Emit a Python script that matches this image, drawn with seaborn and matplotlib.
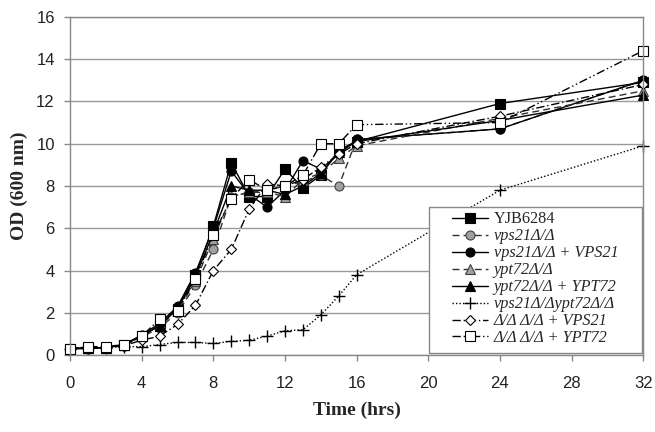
import numpy as np
import pandas as pd
import matplotlib
matplotlib.use("Agg")
import matplotlib.pyplot as plt
from matplotlib.patches import Rectangle
import seaborn as sns

time = [0, 1, 2, 3, 4, 5, 6, 7, 8, 9, 10, 11, 12, 13, 14, 15, 16, 24, 32]

yjb6284 = [0.3, 0.35, 0.35, 0.5, 0.9, 1.4, 2.2, 3.8, 6.1, 9.1, 7.5, 7.5, 8.8, 7.9, 8.5, 9.7, 10.1, 11.9, 12.9]
vps21 = [0.3, 0.35, 0.35, 0.45, 0.85, 1.3, 2.0, 3.3, 5.0, 7.5, 7.7, 7.8, 8.0, 8.2, 8.5, 8.0, 10.2, 10.7, 13.0]
vps21_res = [0.3, 0.3, 0.35, 0.5, 0.95, 1.5, 2.3, 3.9, 6.0, 8.7, 7.6, 7.0, 7.8, 9.2, 8.8, 9.5, 10.2, 10.7, 13.0]
ypt72 = [0.3, 0.35, 0.35, 0.5, 0.9, 1.4, 2.1, 3.5, 5.5, 7.5, 7.7, 7.7, 7.5, 8.3, 8.6, 9.3, 9.9, 11.2, 12.5]
ypt72_res = [0.3, 0.35, 0.35, 0.5, 0.9, 1.4, 2.2, 3.7, 5.8, 8.0, 7.8, 7.8, 7.6, 8.0, 8.6, 9.6, 10.1, 11.1, 12.3]
double = [0.3, 0.35, 0.35, 0.4, 0.4, 0.5, 0.6, 0.6, 0.55, 0.65, 0.7, 0.9, 1.15, 1.2, 1.9, 2.8, 3.8, 7.8, 9.9]
double_vps21 = [0.3, 0.35, 0.35, 0.45, 0.7, 0.9, 1.45, 2.35, 4.0, 5.0, 6.9, 8.1, 8.0, 8.3, 8.9, 9.5, 10.0, 11.3, 12.8]
double_ypt72 = [0.3, 0.4, 0.4, 0.5, 0.9, 1.7, 2.1, 3.6, 5.7, 7.4, 8.3, 7.8, 8.0, 8.5, 10.0, 10.0, 10.9, 11.0, 14.4]

labels = ["YJB6284",
          "vps21Δ/Δ",
          "vps21Δ/Δ + VPS21",
          "ypt72Δ/Δ",
          "ypt72Δ/Δ + YPT72",
          "vps21Δ/Δypt72Δ/Δ",
          "Δ/Δ Δ/Δ + VPS21",
          "Δ/Δ Δ/Δ + YPT72"]
italic = [False, True, True, True, True, True, True, True]
series = [yjb6284, vps21, vps21_res, ypt72, ypt72_res, double, double_vps21, double_ypt72]

styles = [
    dict(linestyle="-", marker="s", mfc="black", mec="black", color="black", ms=6.5),
    dict(linestyle=(0, (5, 3)), marker="o", mfc="#a0a0a0", mec="#404040", color="#303030", ms=6.5),
    dict(linestyle="-", marker="o", mfc="black", mec="black", color="black", ms=6.5),
    dict(linestyle=(0, (5, 3)), marker="^", mfc="#a0a0a0", mec="#404040", color="#303030", ms=6.5),
    dict(linestyle="-", marker="^", mfc="black", mec="black", color="black", ms=6.5),
    dict(linestyle=(0, (1, 1.5)), marker="+", mfc="black", mec="black", color="black", ms=8, mew=1),
    dict(linestyle=(0, (6, 2, 1, 2)), marker="D", mfc="white", mec="black", color="black", ms=5.5),
    dict(linestyle=(0, (6, 2, 1, 2, 1, 2)), marker="s", mfc="white", mec="black", color="black", ms=6.5),
]

sns.set_style("white")

fig = plt.figure(figsize=(6.55, 4.32), dpi=100)
ax = fig.add_axes([0.107, 0.178, 0.875, 0.783])

for lab, vals, st in zip(labels, series, styles):
    df = pd.DataFrame({"t": time, "od": vals})
    st = dict(st)
    ls = st.pop("linestyle")
    ms = st.pop("ms")
    mfc = st.pop("mfc")
    mec = st.pop("mec")
    mew = st.pop("mew", 0.8)
    sns.lineplot(data=df, x="t", y="od", ax=ax, label=lab, linewidth=1.0,
                 markersize=ms, markerfacecolor=mfc, markeredgecolor=mec,
                 markeredgewidth=mew, linestyle=ls, clip_on=False, **st)

ax.set_xlim(0, 32)
ax.set_ylim(0, 16)
ax.set_xticks(range(0, 33, 4))
ax.set_yticks(range(0, 17, 2))
ax.yaxis.grid(True, color="#999999", linewidth=1.0)
ax.set_axisbelow(True)
for sp in ax.spines.values():
    sp.set_color("#888888")
    sp.set_linewidth(1.0)
ax.tick_params(axis="both", direction="out", length=4, width=1, color="#888888",
               labelsize=12, left=True, bottom=True, labelcolor="#222222")
ax.tick_params(axis="x", pad=11)
ax.tick_params(axis="y", pad=7)
for t in ax.get_xticklabels() + ax.get_yticklabels():
    t.set_fontfamily("Liberation Sans")

ax.set_xlabel("Time (hrs)", fontfamily="Liberation Serif", fontweight="bold", fontsize=14, labelpad=8)
ax.set_ylabel("OD (600 nm)", fontfamily="Liberation Serif", fontweight="bold", fontsize=14, labelpad=6)

# legend box frame
frame = Rectangle((0.6265, 0.006), 0.3715, 0.432, transform=ax.transAxes,
                  facecolor="white", edgecolor="#888888", linewidth=1.0, zorder=5)
ax.add_patch(frame)

leg = ax.legend(loc="upper left", bbox_to_anchor=(0.667, 0.425), frameon=False,
                prop={"family": "Liberation Serif", "size": 11.7}, handlelength=2.2,
                labelspacing=0.06, borderpad=0.0, handletextpad=0.35, borderaxespad=0.0)
leg.set_zorder(6)
for txt, it in zip(leg.get_texts(), italic):
    if it:
        txt.set_fontstyle("italic")

fig.savefig("out.png", dpi=100)
